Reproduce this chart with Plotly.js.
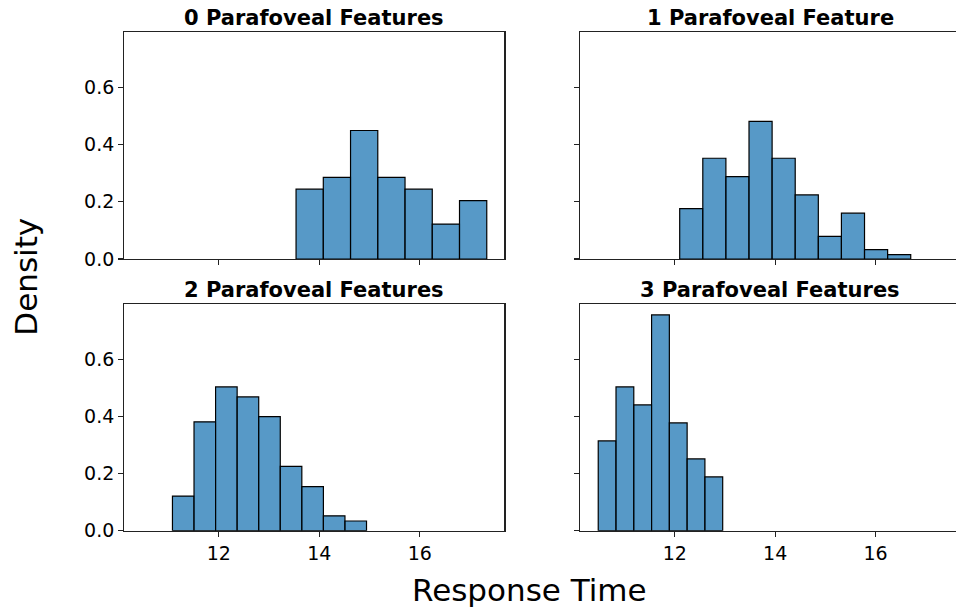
<!DOCTYPE html>
<html>
<head>
<meta charset="utf-8">
<script src="https://cdn.plot.ly/plotly-3.0.1.min.js"></script>
<style>
  html, body { margin: 0; padding: 0; overflow: hidden; background: #fff; }
  #chart { width: 960px; height: 609px; }
</style>
</head>
<body>
<div id="chart"></div>
<script>
// ---- Data ----
const panelTitles = ['0 Parafoveal Features', '1 Parafoveal Feature', '2 Parafoveal Features', '3 Parafoveal Features'];
const binStart = [13.537, 12.099, 11.078, 10.477];
const binWidth = [0.542, 0.460, 0.429, 0.354];
const density0 = [0.244, 0.285, 0.449, 0.285, 0.244, 0.122, 0.204];
const density1 = [0.176, 0.352, 0.288, 0.481, 0.352, 0.224, 0.079, 0.160, 0.033, 0.015];
const density2 = [0.121, 0.381, 0.503, 0.468, 0.399, 0.225, 0.154, 0.052, 0.034];
const density3 = [0.314, 0.503, 0.440, 0.755, 0.377, 0.251, 0.188];
const densities = [density0, density1, density2, density3];
const xTickVals = [12, 14, 16];
const yTickVals = [0, 0.2, 0.4, 0.6];
const xLabel = 'Response Time';
const yLabel = 'Density';

// ---- Layout constants ----
const W = 960, H = 609;
const FONT = 'DejaVu Sans';
const barFill = 'rgba(31,119,180,0.75)';
const xRange = [10.12, 17.68];
const yRange = [0, 0.792];
const colPx = [[124.3, 504.3], [580.3, 960]];
const rowPx = [[32.3, 259], [304.3, 530.7]];

const traces = densities.map((d, i) => {
  const centers = d.map((_, k) => binStart[i] + binWidth[i] * (k + 0.5));
  const suffix = i === 0 ? '' : String(i + 1);
  return {
    type: 'bar',
    x: centers,
    y: d,
    width: d.map(() => binWidth[i]),
    xaxis: 'x' + suffix,
    yaxis: 'y' + suffix,
    marker: { color: barFill, line: { color: '#000', width: 1.2 } },
    showlegend: false,
    hoverinfo: 'x+y'
  };
});

const layout = {
  width: W, height: H,
  margin: { l: 0, r: 0, t: 0, b: 0 },
  paper_bgcolor: '#fff', plot_bgcolor: '#fff',
  font: { family: FONT, color: '#000', size: 19 },
  bargap: 0,
  annotations: []
};

for (let i = 0; i < 4; i++) {
  const r = Math.floor(i / 2), c = i % 2;
  const suffix = i === 0 ? '' : String(i + 1);
  layout['xaxis' + suffix] = {
    domain: [colPx[c][0] / W, colPx[c][1] / W],
    anchor: 'y' + suffix,
    range: xRange,
    tickvals: xTickVals,
    ticktext: xTickVals.map(String),
    showticklabels: r === 1,
    ticks: 'outside', ticklen: 5, tickwidth: 1.2, tickcolor: '#222',
    showline: true, linecolor: '#222', linewidth: 1.2, mirror: true,
    showgrid: false, zeroline: false,
    tickfont: { family: FONT, size: 19, color: '#000' }
  };
  layout['yaxis' + suffix] = {
    domain: [1 - rowPx[r][1] / H, 1 - rowPx[r][0] / H],
    anchor: 'x' + suffix,
    range: yRange,
    tickvals: yTickVals,
    ticktext: yTickVals.map(v => v.toFixed(1)),
    showticklabels: c === 0,
    ticks: 'outside', ticklen: 5, tickwidth: 1.2, tickcolor: '#222',
    showline: true, linecolor: '#222', linewidth: 1.2, mirror: true,
    showgrid: false, zeroline: false,
    tickfont: { family: FONT, size: 19, color: '#000' }
  };
  layout.annotations.push({
    text: '<b>' + panelTitles[i] + '</b>',
    xref: 'x' + suffix + ' domain', yref: 'y' + suffix + ' domain',
    x: 0.5, y: 1, xanchor: 'center', yanchor: 'bottom', yshift: 0,
    showarrow: false,
    font: { family: FONT, size: 21, color: '#000' }
  });
}

layout.annotations.push({
  text: xLabel, xref: 'paper', yref: 'paper',
  x: 529.3 / W, y: 1 - 589.5 / H, xanchor: 'center', yanchor: 'middle',
  showarrow: false, font: { family: FONT, size: 31, color: '#000' }
});
layout.annotations.push({
  text: yLabel, xref: 'paper', yref: 'paper',
  x: 26 / W, y: 1 - 276.7 / H, xanchor: 'center', yanchor: 'middle',
  textangle: -90,
  showarrow: false, font: { family: FONT, size: 31, color: '#000' }
});

Plotly.newPlot('chart', traces, layout, { displayModeBar: false, staticPlot: true });
</script>
</body>
</html>
